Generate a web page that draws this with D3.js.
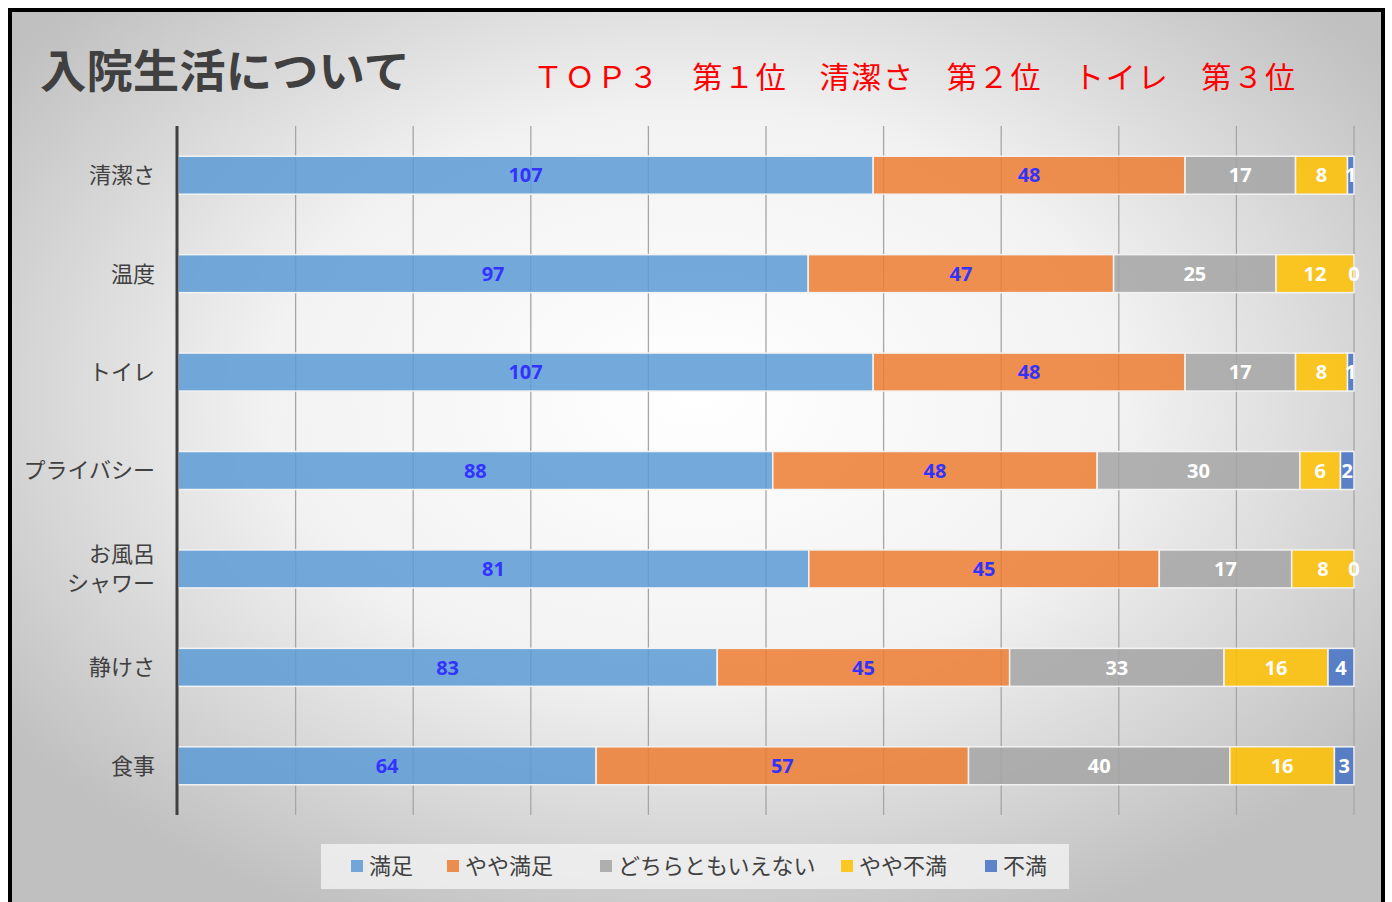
<!DOCTYPE html>
<html>
<head>
<meta charset="utf-8">
<script src="https://cdn.jsdelivr.net/npm/d3@7"></script>
<style>
  body { margin: 0; background: #fff; }
  svg { display: block; }
</style>
</head>
<body>
<div id="dataviz"></div>
<script>
// chart data
var categories = ["清潔さ", "温度", "トイレ", "プライバシー", "お風呂\nシャワー", "静けさ", "食事"];
var seriesNames = ["満足", "やや満足", "どちらともいえない", "やや不満", "不満"];
var manzoku      = [107, 97, 107, 88, 81, 83, 64];
var yayaManzoku  = [48, 47, 48, 48, 45, 45, 57];
var dochiramo    = [17, 25, 17, 30, 17, 33, 40];
var yayaFuman    = [8, 12, 8, 6, 8, 16, 16];
var fuman        = [1, 0, 1, 2, 0, 4, 3];
var seriesColors = ["#5b9bd5", "#ed7d31", "#a5a5a5", "#ffc000", "#4472c4"];
var labelColors  = ["#3333ff", "#3333ff", "#ffffff", "#ffffff", "#ffffff"];

var width = 1392, height = 902;

var svg = d3.select("#dataviz")
    .append("svg")
    .attr("width", width)
    .attr("height", height);

var defs = svg.append("defs");
var grad = defs.append("radialGradient")
    .attr("id", "bg")
    .attr("cx", "50%").attr("cy", "42%").attr("r", "62%");
grad.append("stop").attr("offset", "0%").attr("stop-color", "#ffffff");
grad.append("stop").attr("offset", "50%").attr("stop-color", "#f2f2f2");
grad.append("stop").attr("offset", "100%").attr("stop-color", "#c0c0c0");

// frame
svg.append("rect")
    .attr("x", 10).attr("y", 10)
    .attr("width", 1373).attr("height", 920)
    .attr("fill", "url(#bg)")
    .attr("stroke", "#000")
    .attr("stroke-width", 4);

// titles
svg.append("text")
    .attr("x", 40).attr("y", 88)
    .attr("font-family", "'Noto Sans CJK JP', sans-serif")
    .attr("font-weight", "bold")
    .attr("font-size", 45)
    .attr("textLength", 370)
    .attr("lengthAdjust", "spacingAndGlyphs")
    .attr("fill", "#404040")
    .text("入院生活について");

svg.append("text")
    .attr("x", 533).attr("y", 88)
    .attr("font-family", "'Noto Sans CJK JP', sans-serif")
    .attr("font-size", 30)
    .attr("textLength", 762)
    .attr("lengthAdjust", "spacing")
    .attr("fill", "#ff0000")
    .text("ＴＯＰ３　第１位　清潔さ　第２位　トイレ　第３位");

// stacked data (100%)
var rows = categories.map(function (c, i) {
    return { cat: c, v: [manzoku[i], yayaManzoku[i], dochiramo[i], yayaFuman[i], fuman[i]] };
});
rows.forEach(function (r) {
    var total = d3.sum(r.v), acc = 0;
    r.segs = r.v.map(function (v, k) {
        var s = { k: k, v: v, x0: acc / total, x1: (acc + v) / total, cat: r.cat };
        acc += v;
        return s;
    });
});

var x = d3.scaleLinear().domain([0, 1]).range([178, 1354]);
var y = d3.scaleBand()
    .domain(categories)
    .range([126, 815])
    .paddingInner(0.614)
    .paddingOuter(0.307);

// gridlines
svg.append("g")
    .selectAll("line")
    .data(d3.range(0.1, 1.01, 0.1))
    .enter().append("line")
    .attr("x1", function (d) { return x(d); })
    .attr("x2", function (d) { return x(d); })
    .attr("y1", 126).attr("y2", 815)
    .attr("stroke", "#a6a6a6")
    .attr("stroke-width", 1.3);

// bars
var rowG = svg.append("g")
    .selectAll("g")
    .data(rows)
    .enter().append("g");

rowG.selectAll("rect")
    .data(function (d) { return d.segs; })
    .enter().append("rect")
    .attr("x", function (d) { return x(d.x0); })
    .attr("y", function (d) { return y(d.cat); })
    .attr("width", function (d) { return x(d.x1) - x(d.x0); })
    .attr("height", y.bandwidth())
    .attr("fill", function (d) { return seriesColors[d.k]; })
    .attr("fill-opacity", 0.85)
    .attr("stroke", "#f2f2f2")
    .attr("stroke-width", 1.5);

rowG.selectAll("text")
    .data(function (d) { return d.segs; })
    .enter().append("text")
    .attr("x", function (d) { return (x(d.x0) + x(d.x1)) / 2; })
    .attr("y", function (d) { return y(d.cat) + y.bandwidth() / 2; })
    .attr("dy", "0.36em")
    .attr("text-anchor", "middle")
    .attr("font-family", "'Open Sans', sans-serif")
    .attr("font-weight", "bold")
    .attr("font-size", 20)
    .attr("fill", function (d) { return labelColors[d.k]; })
    .text(function (d) { return d.v; });

// axis line
svg.append("line")
    .attr("x1", 177).attr("x2", 177)
    .attr("y1", 126).attr("y2", 815)
    .attr("stroke", "#404040")
    .attr("stroke-width", 3);

// category labels
var catG = svg.append("g");
categories.forEach(function (c) {
    var lines = c.split("\n");
    var cy = y(c) + y.bandwidth() / 2;
    var t = catG.append("text")
        .attr("text-anchor", "end")
        .attr("font-family", "'Noto Sans CJK JP', sans-serif")
        .attr("font-size", 22)
        .attr("fill", "#404040");
    lines.forEach(function (l, i) {
        t.append("tspan")
            .attr("x", 155)
            .attr("y", cy + (i - (lines.length - 1) / 2) * 29)
            .attr("dy", "0.36em")
            .text(l);
    });
});

// legend
svg.append("rect")
    .attr("x", 321).attr("y", 844)
    .attr("width", 748).attr("height", 45)
    .attr("fill", "#f2f2f2")
    .attr("fill-opacity", 0.8);

var legendX = [351, 447, 600, 841, 985];
var legend = svg.append("g")
    .selectAll("g")
    .data(seriesNames)
    .enter().append("g")
    .attr("transform", function (d, i) { return "translate(" + legendX[i] + ",866)"; });

legend.append("rect")
    .attr("x", 0).attr("y", -6)
    .attr("width", 12).attr("height", 12)
    .attr("fill", function (d, i) { return seriesColors[i]; })
    .attr("fill-opacity", 0.85);

legend.append("text")
    .attr("x", 18)
    .attr("dy", "0.36em")
    .attr("font-family", "'Noto Sans CJK JP', sans-serif")
    .attr("font-size", 22)
    .attr("fill", "#404040")
    .text(function (d) { return d; });
</script>
</body>
</html>
